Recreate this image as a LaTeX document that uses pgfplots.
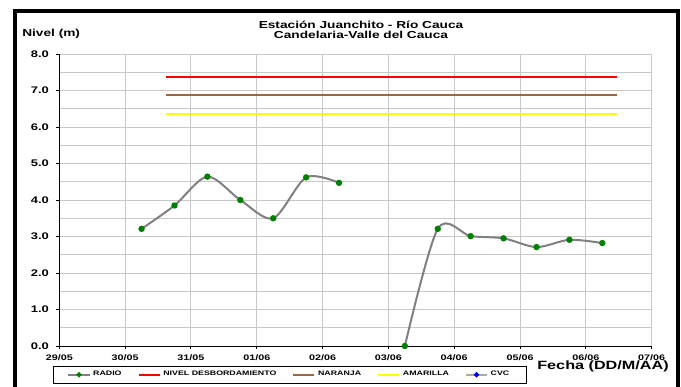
\documentclass[border=0pt]{standalone}
\usepackage{pgfplots}
\pgfplotsset{compat=1.18}
\usepackage{fontspec}
\setmainfont{Liberation Sans}[FakeStretch=1.35]
\definecolor{gridc}{RGB}{200,200,200}
\definecolor{radiogray}{RGB}{128,128,128}
\definecolor{dotgreen}{RGB}{0,128,0}
\definecolor{brownline}{RGB}{160,102,58}
\definecolor{yellowline}{RGB}{255,255,0}
\definecolor{cvcgray}{RGB}{170,170,170}
\begin{document}
\begin{tikzpicture}[x=0.75pt,y=0.75pt]
\useasboundingbox (0,0) rectangle (681,386);
\draw[line width=3pt] (15,-10) rectangle (677.5,375);
\node[anchor=base,font=\bfseries\fontsize{7.6}{9}\selectfont] at (361,357.7) {Estación Juanchito - Río Cauca};
\node[anchor=base,font=\bfseries\fontsize{7.6}{9}\selectfont] at (361,347.7) {Candelaria-Valle del Cauca};
\node[anchor=base west,inner sep=0pt,font=\bfseries\fontsize{7.6}{9}\selectfont] at (22,349.3) {Nivel (m)};
\node[anchor=base east,inner sep=0pt,font=\bfseries\fontsize{9}{10}\selectfont] at (669,16.7) {Fecha (DD/M/AA)};
\begin{axis}[
  at={(44.475pt,30pt)}, anchor=south west,
  scale only axis, width=444.3pt, height=219pt,
  xmin=0, xmax=9, ymin=0, ymax=8,
  clip=false,
  axis x line*=bottom, axis y line*=left,
  axis line style={black, line width=0.75pt},
  xtick={0,...,9},
  xticklabels={29/05,30/05,31/05,01/06,02/06,03/06,04/06,05/06,06/06,07/06},
  ytick={0,...,8},
  minor ytick={0.5,1.5,...,7.5},
  xmajorgrids, ymajorgrids, yminorgrids,
  major grid style={gridc, line width=0.75pt},
  minor grid style={gridc, line width=0.75pt},
  tick align=outside, major tick length=2.25pt, minor tick length=0pt,
  tick style={black, line width=0.75pt},
  yticklabel={\pgfmathprintnumber[fixed,fixed zerofill,precision=1,assume math mode=true]{\tick}},
  yticklabel style={font=\bfseries\fontsize{7.2}{8}\selectfont, xshift=-2pt},
  xticklabel style={font=\bfseries\fontsize{6}{7}\selectfont, yshift=-0.5pt},
  legend columns=5,
  legend style={at={(0.389,-0.0983)}, anchor=center, draw=black, thin,
    font=\bfseries\fontsize{4.9}{5.5}\selectfont,
    inner xsep=11pt, inner ysep=2pt,
    /tikz/every even column/.append style={column sep=10pt}},
  legend image code/.code={\draw[mark repeat=2,mark phase=2,mark size=1.1pt] plot coordinates {(0pt,0pt)(7.9pt,0pt)(15.8pt,0pt)};},
]
\addplot[radiogray, line width=1.5pt, smooth, mark=*, mark size=1.6pt,
  mark options={fill=dotgreen, draw=dotgreen}] coordinates {
  (1.25,3.21) (1.75,3.85) (2.25,4.64) (2.75,4.00) (3.25,3.50) (3.75,4.62) (4.25,4.47)};
\addlegendentry{RADIO}
\addplot[radiogray, line width=1.5pt, smooth, mark=*, mark size=1.6pt,
  mark options={fill=dotgreen, draw=dotgreen}, forget plot] coordinates {
  (5.25,0.00) (5.75,3.21) (6.25,3.01) (6.75,2.95) (7.25,2.71) (7.75,2.91) (8.25,2.82)};
\addplot[red, line width=1.5pt] coordinates {(1.62,7.37) (8.48,7.37)};
\addlegendentry{NIVEL DESBORDAMIENTO}
\addplot[brownline, line width=1.5pt] coordinates {(1.62,6.87) (8.48,6.87)};
\addlegendentry{NARANJA}
\addplot[yellowline, line width=1.5pt] coordinates {(1.62,6.37) (8.48,6.37)};
\addlegendentry{AMARILLA}
\addlegendimage{cvcgray, line width=1.5pt, mark=*, mark options={fill=blue, draw=blue}}
\addlegendentry{CVC}
\end{axis}
\end{tikzpicture}
\end{document}
